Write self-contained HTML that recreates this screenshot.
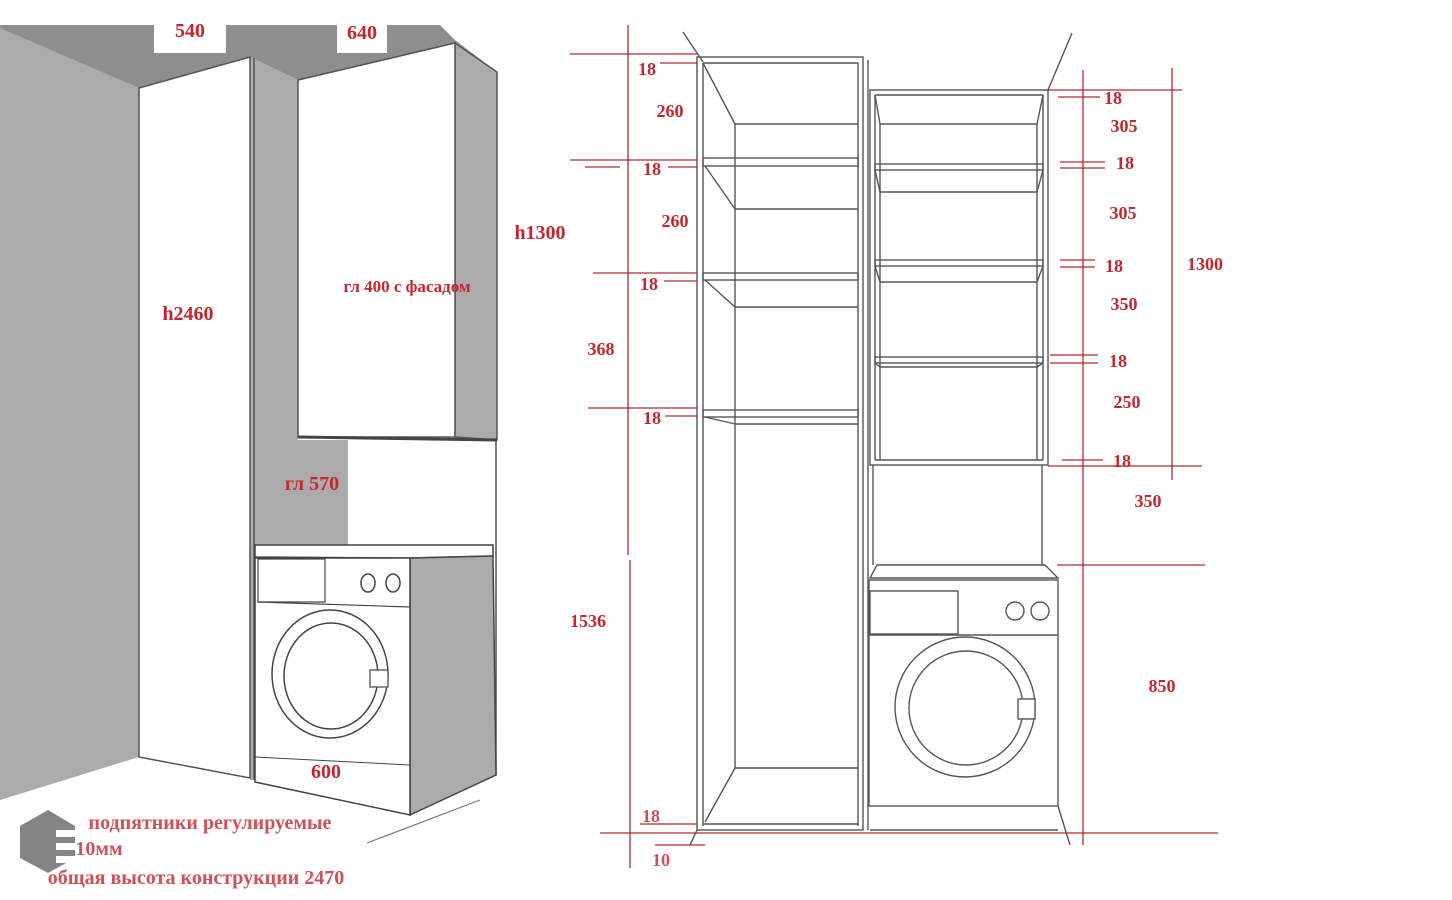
<!DOCTYPE html>
<html><head><meta charset="utf-8"><style>
html,body{margin:0;padding:0;background:#fff;}
svg{display:block;}
.t{font-family:"Liberation Serif","Noto Serif CJK SC",serif;font-weight:bold;fill:#c4262e;}
</style></head><body>
<svg width="1452" height="900" viewBox="0 0 1452 900" xmlns="http://www.w3.org/2000/svg">
<rect width="1452" height="900" fill="#fff"/>
<polygon points="0,25 440,25 455,40 497,72 455,43 298,80 250,57 139,88 0,30" fill="#8e8e8e"/>
<polygon points="0,28 139,88 139,757 0,800" fill="#ababab"/>
<rect x="154" y="25" width="72" height="28" fill="#fff"/>
<rect x="337" y="25" width="50" height="28" fill="#fff"/>
<polygon points="250,57 298,80 298,440 348,440 348,545 255,545 255,780 250,780" fill="#ababab"/>
<polygon points="139,88 250,57 250,778 139,757" fill="#fff" stroke="#555" stroke-width="1.5"/>
<line x1="254" y1="58" x2="254" y2="780" stroke="#555" stroke-width="1.5"/>
<polygon points="455,43 497,72 497,440 455,437" fill="#ababab" stroke="#555" stroke-width="1.5"/>
<polygon points="298,80 455,43 455,437 298,437" fill="#fff" stroke="#555" stroke-width="1.5"/>
<line x1="298" y1="437" x2="497" y2="440" stroke="#444" stroke-width="3"/>
<rect x="348" y="442" width="147" height="103" fill="#fff"/>
<line x1="496" y1="440" x2="496" y2="775" stroke="#555" stroke-width="1.5"/>
<!-- washer -->
<polygon points="255,545 493,545 493,556 410,558 255,557" fill="#fff" stroke="#444" stroke-width="1.5"/>
<polygon points="410,558 493,556 496,775 410,815" fill="#ababab" stroke="#444" stroke-width="1.5"/>
<polygon points="255,558 410,558 410,815 255,782" fill="#fff" stroke="#444" stroke-width="1.5"/>
<rect x="258" y="559" width="67" height="43" fill="#fff" stroke="#444" stroke-width="1.2"/>
<line x1="258" y1="602" x2="410" y2="607" stroke="#444" stroke-width="1.2"/>
<ellipse cx="368" cy="583" rx="7" ry="9" fill="none" stroke="#444" stroke-width="1.5"/>
<ellipse cx="393" cy="583" rx="7" ry="9" fill="none" stroke="#444" stroke-width="1.5"/>
<ellipse cx="330" cy="674" rx="58" ry="64" fill="none" stroke="#444" stroke-width="1.5"/>
<ellipse cx="331" cy="676" rx="47" ry="53" fill="none" stroke="#444" stroke-width="1.5"/>
<rect x="370" y="670" width="18" height="17" fill="#fff" stroke="#444" stroke-width="1.2"/>
<line x1="255" y1="757" x2="410" y2="765" stroke="#444" stroke-width="1"/>
<line x1="367" y1="843" x2="480" y2="800" stroke="#777" stroke-width="1.2"/>
<text class="t" x="190" y="37" font-size="20" text-anchor="middle">540</text>
<text class="t" x="362" y="39" font-size="20" text-anchor="middle">640</text>
<text class="t" x="540" y="239" font-size="20" text-anchor="middle">h1300</text>
<text class="t" x="407" y="292" font-size="17" text-anchor="middle">гл 400 с фасадом</text>
<text class="t" x="188" y="320" font-size="20" text-anchor="middle">h2460</text>
<text class="t" x="312" y="490" font-size="20" text-anchor="middle">гл 570</text>
<text class="t" x="326" y="778" font-size="20" text-anchor="middle">600</text>
<polygon points="20,826 48,810 75,826 75,858 48,873 20,858" fill="#777" opacity="0.9"/>
<rect x="56" y="830" width="24" height="7" fill="#fff"/><rect x="56" y="843" width="24" height="7" fill="#fff"/><rect x="56" y="856" width="24" height="7" fill="#fff"/>
<text x="80" y="860" font-family="Liberation Sans,sans-serif" font-size="36" fill="none" stroke="#fff" stroke-width="1.5">VO</text>
<text class="t" x="210" y="829" font-size="20" text-anchor="middle" opacity="0.8">подпятники регулируемые</text>
<text class="t" x="99" y="855" font-size="20" text-anchor="middle" opacity="0.8">10мм</text>
<text class="t" x="196" y="884" font-size="20" text-anchor="middle" opacity="0.8">общая высота конструкции 2470</text>

<g stroke="#555" stroke-width="1.4" fill="none">
<line x1="683" y1="32" x2="703" y2="62"/>
<line x1="1072" y1="33" x2="1048" y2="90"/>
<rect x="697" y="57" width="166" height="773"/>
<line x1="703" y1="63" x2="703" y2="826"/>
<line x1="858" y1="63" x2="858" y2="826"/>
<line x1="868" y1="60" x2="868" y2="830"/>
<line x1="703" y1="63" x2="858" y2="63"/>
<line x1="703" y1="824" x2="858" y2="824"/>
<line x1="735" y1="124" x2="735" y2="768"/>
<line x1="735" y1="124" x2="858" y2="124"/>
<line x1="703" y1="63" x2="735" y2="124"/>
<rect x="703" y="158" width="155" height="8"/>
<line x1="735" y1="209" x2="858" y2="209"/><line x1="705" y1="166" x2="735" y2="209"/>
<rect x="703" y="273" width="155" height="7"/>
<line x1="735" y1="307" x2="858" y2="307"/><line x1="705" y1="280" x2="735" y2="307"/>
<rect x="703" y="410" width="155" height="7"/>
<line x1="735" y1="424" x2="858" y2="424"/><line x1="705" y1="417" x2="735" y2="424"/>
<line x1="735" y1="768" x2="858" y2="768"/><line x1="735" y1="768" x2="705" y2="822"/>
<rect x="870" y="90" width="178" height="375"/>
<line x1="875" y1="95" x2="875" y2="460"/>
<line x1="1043" y1="95" x2="1043" y2="460"/>
<line x1="875" y1="95" x2="1043" y2="95"/>
<line x1="875" y1="460" x2="1043" y2="460"/>
<line x1="880" y1="124" x2="1037" y2="124"/><line x1="875" y1="95" x2="880" y2="124"/><line x1="1043" y1="95" x2="1037" y2="124"/>
<rect x="875" y="164" width="168" height="6"/>
<line x1="880" y1="192" x2="1037" y2="192"/><line x1="875" y1="170" x2="880" y2="192"/><line x1="1043" y1="170" x2="1037" y2="192"/>
<rect x="875" y="260" width="168" height="6"/>
<line x1="880" y1="282" x2="1037" y2="282"/><line x1="875" y1="266" x2="880" y2="282"/><line x1="1043" y1="266" x2="1037" y2="282"/>
<rect x="875" y="357" width="168" height="6"/>
<line x1="880" y1="367" x2="1037" y2="367"/><line x1="875" y1="363" x2="880" y2="367"/><line x1="1043" y1="363" x2="1037" y2="367"/>
<line x1="1037" y1="124" x2="1037" y2="460"/><line x1="880" y1="124" x2="880" y2="460"/>
<line x1="873" y1="465" x2="873" y2="565"/>
<line x1="1042" y1="465" x2="1042" y2="565"/>
<polygon points="877,565 1045,565 1058,578 870,578"/>
<rect x="869" y="580" width="189" height="226"/>
<rect x="870" y="591" width="88" height="43"/>
<line x1="869" y1="635" x2="1058" y2="635"/>
<circle cx="1015" cy="611" r="9"/><circle cx="1040" cy="611" r="9"/>
<circle cx="965" cy="707" r="70"/><circle cx="966" cy="708" r="57"/>
<rect x="1018" y="699" width="17" height="20" fill="#fff"/>
<line x1="870" y1="830" x2="1058" y2="830"/>
<line x1="1058" y1="806" x2="1070" y2="845"/>
<line x1="697" y1="830" x2="690" y2="845"/>
</g>
<g stroke="#b22a2e" stroke-width="1.3">
<line x1="628" y1="25" x2="628" y2="555"/>
<line x1="630" y1="560" x2="630" y2="868"/>
<line x1="570" y1="54" x2="697" y2="54"/>
<line x1="660" y1="63" x2="697" y2="63"/>
<line x1="570" y1="160" x2="697" y2="160"/>
<line x1="585" y1="167" x2="620" y2="167"/><line x1="668" y1="167" x2="697" y2="167"/>
<line x1="593" y1="273" x2="697" y2="273"/><line x1="664" y1="281" x2="697" y2="281"/>
<line x1="588" y1="408" x2="697" y2="408"/><line x1="665" y1="416" x2="697" y2="416"/>
<line x1="640" y1="824" x2="697" y2="824"/>
<line x1="655" y1="845" x2="705" y2="845"/>
<line x1="600" y1="833" x2="1218" y2="833"/>
<line x1="1083" y1="70" x2="1083" y2="845"/>
<line x1="1172" y1="68" x2="1172" y2="480"/>
<line x1="1048" y1="90" x2="1182" y2="90"/>
<line x1="1058" y1="97" x2="1100" y2="97"/>
<line x1="1060" y1="162" x2="1105" y2="162"/><line x1="1060" y1="168" x2="1105" y2="168"/>
<line x1="1060" y1="260" x2="1095" y2="260"/><line x1="1060" y1="267" x2="1095" y2="267"/>
<line x1="1050" y1="355" x2="1098" y2="355"/><line x1="1050" y1="363" x2="1098" y2="363"/>
<line x1="1062" y1="460" x2="1103" y2="460"/>
<line x1="1048" y1="466" x2="1202" y2="466"/>
<line x1="1057" y1="565" x2="1205" y2="565"/>
</g>
<g class="t" font-size="18" text-anchor="middle">
<text x="647" y="75">18</text>
<text x="670" y="117">260</text>
<text x="652" y="175">18</text>
<text x="675" y="227">260</text>
<text x="649" y="290">18</text>
<text x="601" y="355">368</text>
<text x="652" y="424">18</text>
<text x="588" y="627">1536</text>
<text x="651" y="822" opacity="0.8">18</text>
<text x="661" y="866" opacity="0.8">10</text>
<text x="1113" y="104">18</text>
<text x="1124" y="132">305</text>
<text x="1125" y="169">18</text>
<text x="1123" y="219">305</text>
<text x="1114" y="272">18</text>
<text x="1205" y="270">1300</text>
<text x="1124" y="310">350</text>
<text x="1118" y="367">18</text>
<text x="1127" y="408">250</text>
<text x="1122" y="467">18</text>
<text x="1148" y="507">350</text>
<text x="1162" y="692">850</text>
</g>
</svg>
</body></html>
